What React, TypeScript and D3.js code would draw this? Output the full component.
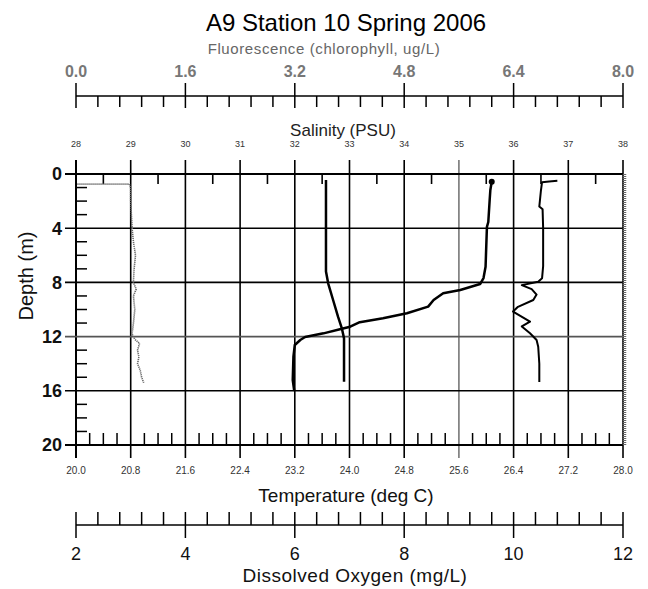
import React from "react";
import * as d3 from "d3";

const depthMajor = [0, 4, 8, 12, 16, 20];
const depthMinor = d3.range(0, 21, 1);
const salinityTicks = [28, 29, 30, 31, 32, 33, 34, 35, 36, 37, 38];
const salinityMinor = d3.range(28.5, 38, 1);
const tempTicks = [20.0, 20.8, 21.6, 22.4, 23.2, 24.0, 24.8, 25.6, 26.4, 27.2, 28.0];
const tempMinor = d3.range(0, 41).map((i) => 20 + i * 0.2).filter((_, i) => i % 4 !== 0);
const fluorTicks = [0.0, 1.6, 3.2, 4.8, 6.4, 8.0];
const fluorMinor = d3.range(0, 26).map((i) => i * 0.32).filter((_, i) => i % 5 !== 0);
const doTicks = [2, 4, 6, 8, 10, 12];
const doMinor = d3.range(0, 26).map((i) => 2 + i * 0.4).filter((_, i) => i % 5 !== 0);

// Temperature (deg C) vs depth (m)
const tempDepth = [0.57, 1.18, 1.92, 3.54, 3.9, 6.84, 7.68, 8.12, 8.56, 8.8, 9.3, 9.79, 10.28, 10.65, 10.94, 11.27, 11.46, 11.76, 12.03, 12.25, 12.62, 13.48, 15.2, 15.94];
const tempValues = [26.08, 26.06, 26.05, 26.03, 26.01, 25.99, 25.96, 25.91, 25.62, 25.37, 25.23, 25.15, 24.84, 24.49, 24.15, 24.01, 23.86, 23.62, 23.35, 23.28, 23.2, 23.18, 23.17, 23.19];

// Dissolved oxygen (mg/L)
const doDepth = [0.44, 7.2, 8.07, 9.3, 10.53, 11.39, 12.13, 15.33];
const doValues = [6.57, 6.57, 6.61, 6.7, 6.79, 6.86, 6.9, 6.9];

// Salinity (PSU)
const salDepth = [0.5, 0.55, 0.6, 1.2, 2.0, 2.4, 2.6, 4.0, 6.8, 7.7, 7.95, 8.2, 8.5, 8.9, 9.3, 9.8, 10.15, 10.9, 11.25, 11.75, 12.25, 12.75, 14.0, 15.35];
const salValues = [36.8, 36.65, 36.52, 36.5, 36.48, 36.47, 36.53, 36.54, 36.54, 36.52, 36.45, 36.15, 36.33, 36.42, 36.36, 36.08, 35.99, 36.3, 36.15, 36.3, 36.42, 36.45, 36.47, 36.47];

// Fluorescence (ug/L)
const fluorDepth = [0.75, 0.75, 1.0, 2.0, 3.0, 4.0, 5.0, 6.0, 7.0, 8.0, 8.5, 9.0, 10.0, 11.0, 11.8, 12.2, 12.5, 13.0, 13.5, 14.0, 14.5, 15.0, 15.4];
const fluorValues = [0.02, 0.78, 0.8, 0.8, 0.81, 0.82, 0.84, 0.87, 0.85, 0.84, 0.88, 0.84, 0.86, 0.84, 0.82, 0.86, 0.93, 0.9, 0.92, 0.9, 0.94, 0.96, 0.99];

const L = 76, R = 623, T = 174, B = 445;
const font = "'Liberation Sans', Arial, sans-serif";

export default function App() {
  const y = d3.scaleLinear().domain([0, 20]).range([T, B]);
  const sal = d3.scaleLinear().domain([28, 38]).range([L, R]);
  const temp = d3.scaleLinear().domain([20, 28]).range([L, R]);
  const fl = d3.scaleLinear().domain([0, 8]).range([L, R]);
  const dox = d3.scaleLinear().domain([2, 12]).range([L, R]);

  const mk = (xs: number[], ds: number[], sx: (v: number) => number) =>
    d3.line<number>().x((v) => sx(v)).y((_, i) => y(ds[i]))(xs) || "";

  const fluorY = 96;
  const doY = 525;

  return (
    <svg width={648} height={589} style={{ position: "absolute", left: 0, top: 0, background: "#fff" }} fontFamily={font}>
      <text x={346} y={31} fontSize={24} textAnchor="middle" fill="#000">A9 Station 10 Spring 2006</text>
      <text x={324} y={54} fontSize={15} letterSpacing={0.6} textAnchor="middle" fill="#666">Fluorescence (chlorophyll, ug/L)</text>

      {/* Fluorescence axis */}
      <line x1={L} x2={R} y1={fluorY} y2={fluorY} stroke="#000" strokeWidth={1.5} />
      {fluorTicks.map((v) => (
        <g key={"f" + v}>
          <line x1={fl(v)} x2={fl(v)} y1={83} y2={108} stroke="#000" strokeWidth={1.5} />
          <text x={fl(v)} y={77} fontSize={16} textAnchor="middle" fill="#777" fontWeight="bold">{v.toFixed(1)}</text>
        </g>
      ))}
      {fluorMinor.map((v, i) => (
        <line key={"fm" + i} x1={fl(v)} x2={fl(v)} y1={fluorY} y2={107} stroke="#000" strokeWidth={1.5} />
      ))}

      <text x={343} y={136} fontSize={17} textAnchor="middle" fill="#222">Salinity (PSU)</text>
      {salinityTicks.map((v) => (
        <text key={"s" + v} x={sal(v)} y={147} fontSize={9} textAnchor="middle" fill="#333">{v}</text>
      ))}

      {/* grid verticals */}
      {salinityTicks.map((v, i) => (
        <line key={"gv" + v} x1={sal(v)} x2={sal(v)} y1={160} y2={458} stroke={i === 7 ? "#777" : "#000"} strokeWidth={i === 0 ? 2 : 1.6} />
      ))}
      {/* grid horizontals */}
      {depthMajor.map((d) => (
        <line key={"gh" + d} x1={65} x2={R} y1={y(d)} y2={y(d)} stroke={d === 12 ? "#555" : "#000"} strokeWidth={d === 0 || d === 20 ? 2 : 1.6} />
      ))}
      {depthMinor.filter((d) => d % 4 !== 0).map((d) => (
        <line key={"dm" + d} x1={L} x2={L + 11} y1={y(d)} y2={y(d)} stroke="#000" strokeWidth={1.5} />
      ))}
      {salinityMinor.map((v) => (
        <line key={"sm" + v} x1={sal(v)} x2={sal(v)} y1={T} y2={T + 10} stroke="#000" strokeWidth={1.6} />
      ))}
      {tempMinor.map((v, i) => (
        <line key={"tm" + i} x1={temp(v)} x2={temp(v)} y1={B} y2={B - 12} stroke="#000" strokeWidth={1.5} />
      ))}
      <line x1={R + 1.5} x2={R + 1.5} y1={T} y2={B} stroke="#666" strokeWidth={3.5} strokeDasharray="1 1" />

      {depthMajor.map((d) => (
        <text key={"dl" + d} x={62} y={y(d)} dy="0.36em" fontSize={18} fontWeight="bold" textAnchor="end" fill="#111">{d}</text>
      ))}
      <text transform={`translate(33,${276}) rotate(-90)`} fontSize={20} textAnchor="middle" fill="#111">Depth (m)</text>

      {/* data */}
      <path d={mk(fluorValues, fluorDepth, fl)} fill="none" stroke="#666" strokeWidth={1.6} strokeDasharray="1.2 0.8" />
      <path d={mk(doValues, doDepth, dox)} fill="none" stroke="#000" strokeWidth={2.5} strokeLinejoin="round" />
      <path d={mk(salValues, salDepth, sal)} fill="none" stroke="#000" strokeWidth={2} strokeLinejoin="round" />
      <path d={mk(tempValues, tempDepth, temp)} fill="none" stroke="#000" strokeWidth={2.5} strokeLinejoin="round" strokeLinecap="round" />
      <circle cx={temp(tempValues[0])} cy={y(tempDepth[0])} r={3} fill="#000" />

      {tempTicks.map((v) => (
        <text key={"t" + v} x={temp(v)} y={474} fontSize={10} textAnchor="middle" fill="#333">{v.toFixed(1)}</text>
      ))}
      <text x={346} y={502} fontSize={19} textAnchor="middle" fill="#111">Temperature (deg C)</text>

      {/* DO axis */}
      <line x1={L} x2={R} y1={doY} y2={doY} stroke="#000" strokeWidth={1.5} />
      {doTicks.map((v) => (
        <g key={"o" + v}>
          <line x1={dox(v)} x2={dox(v)} y1={512} y2={538} stroke="#000" strokeWidth={1.5} />
          <text x={dox(v)} y={560} fontSize={18} textAnchor="middle" fill="#111">{v}</text>
        </g>
      ))}
      {doMinor.map((v, i) => (
        <line key={"om" + i} x1={dox(v)} x2={dox(v)} y1={512} y2={doY} stroke="#000" strokeWidth={1.5} />
      ))}
      <text x={355} y={582} fontSize={19} letterSpacing={0.5} textAnchor="middle" fill="#111">Dissolved Oxygen (mg/L)</text>
    </svg>
  );
}
